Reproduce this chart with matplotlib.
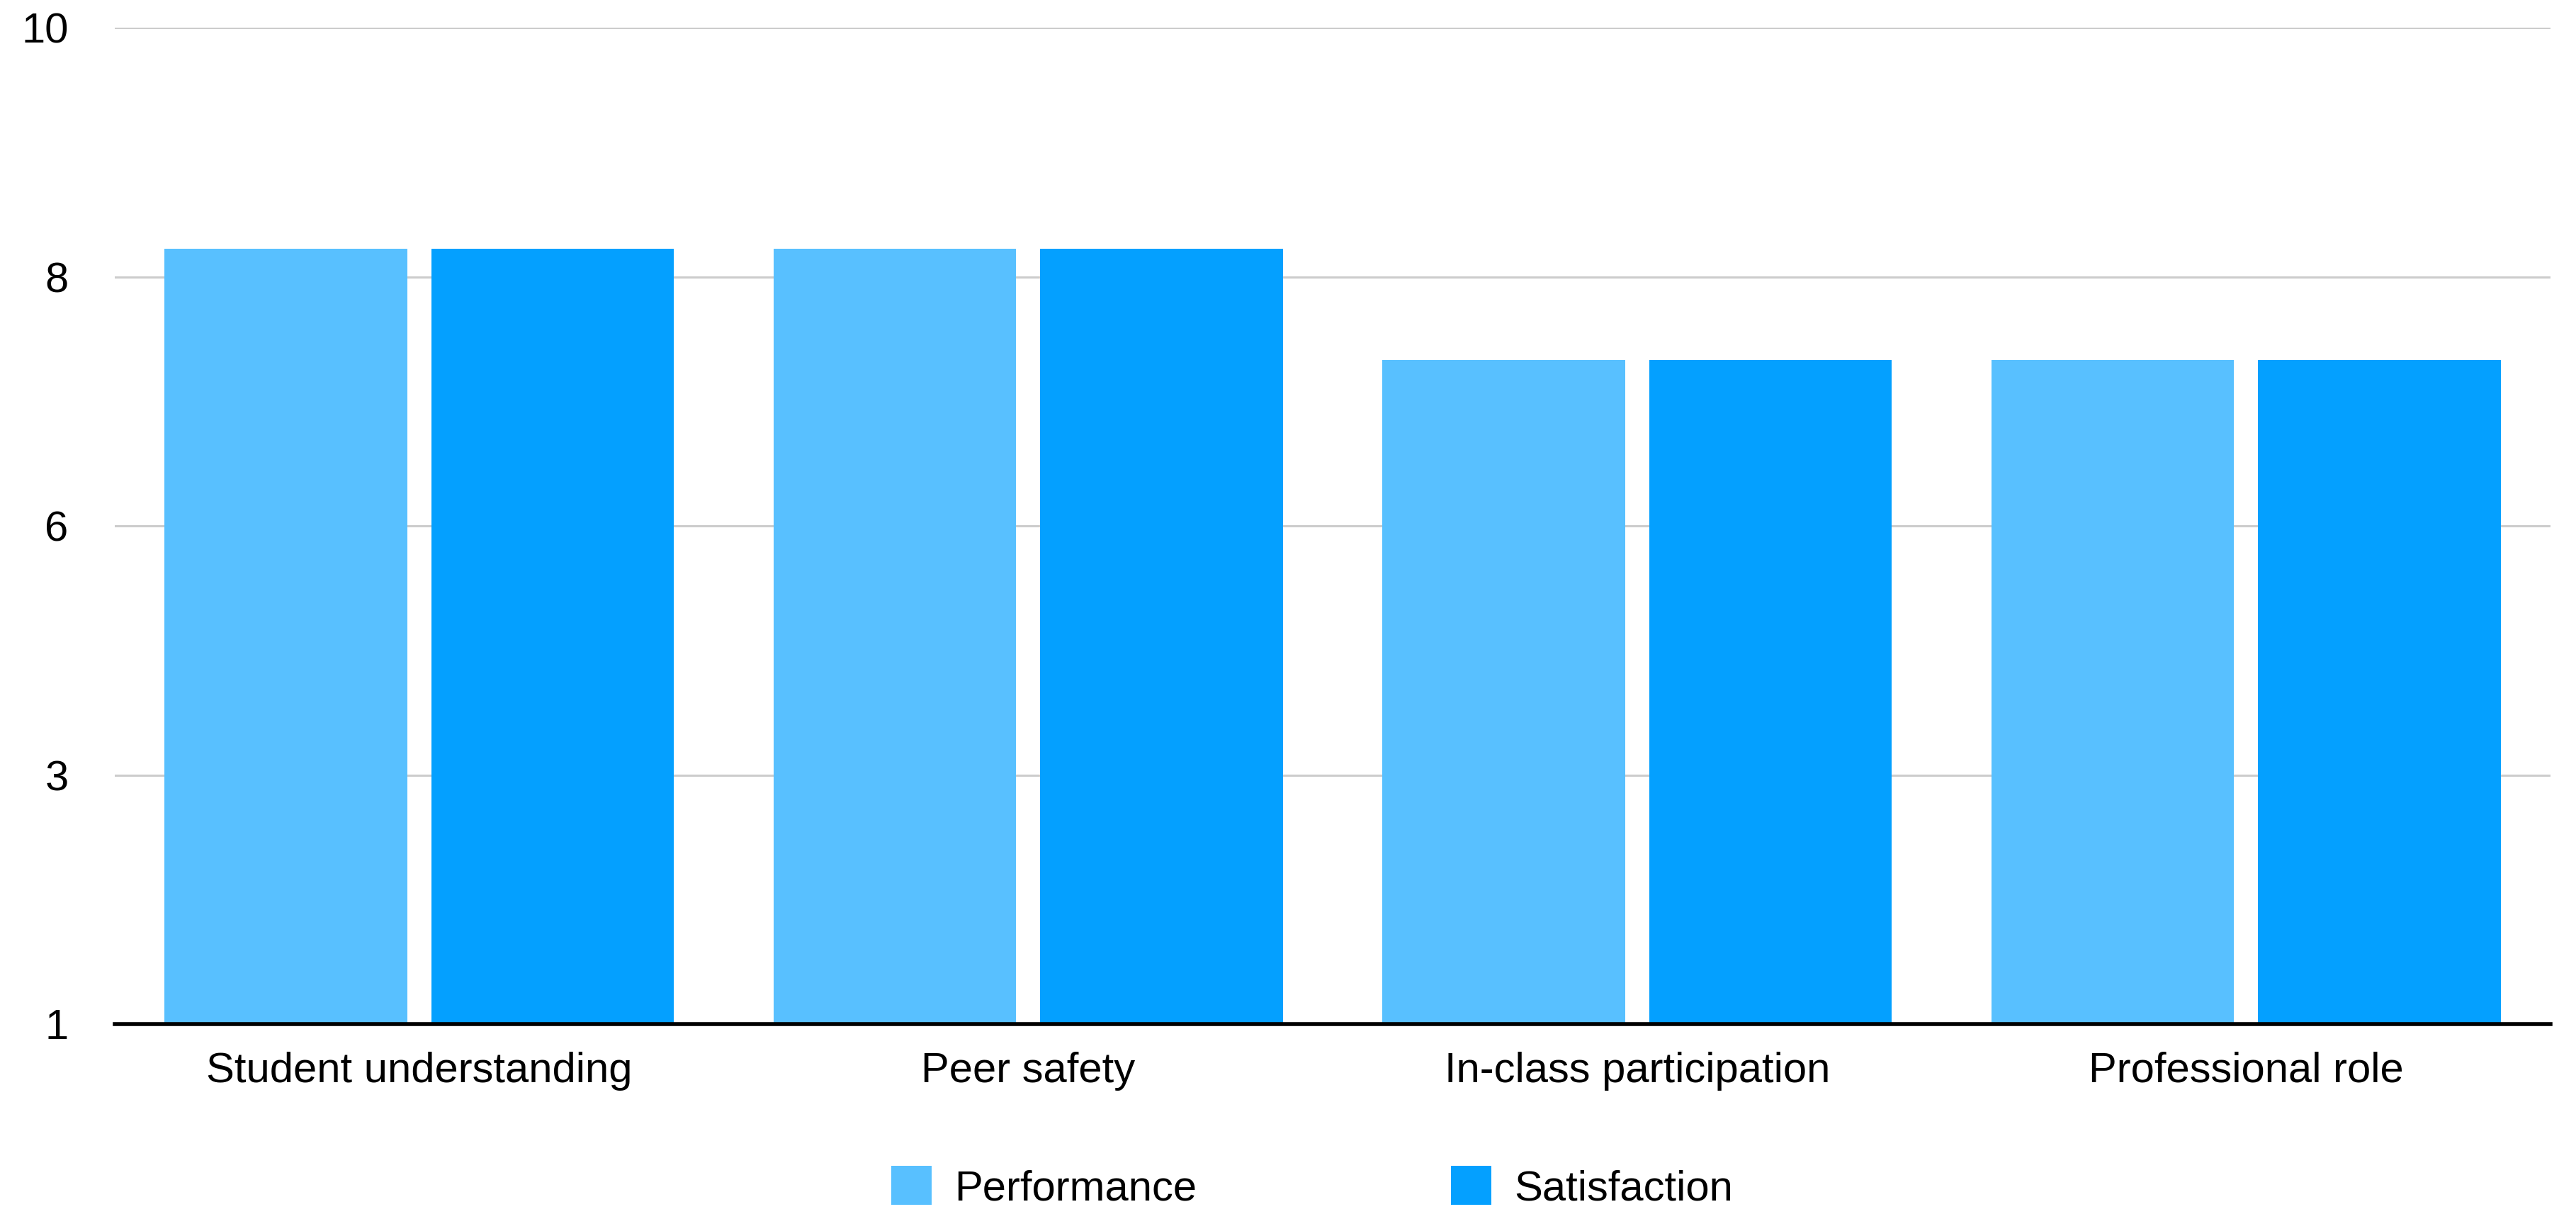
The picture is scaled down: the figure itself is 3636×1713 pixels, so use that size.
import numpy as np
import matplotlib.pyplot as plt

categories = ["Student understanding", "Peer safety", "In-class participation", "Professional role"]
performance = [8, 8, 7, 7]
satisfaction = [8, 8, 7, 7]
series_names = ["Performance", "Satisfaction"]
ytick_vals = np.linspace(1, 10, 5)
ytick_labels = ["1", "3", "6", "8", "10"]

c_perf = "#58C0FF"
c_sat = "#04A0FF"

plt.rcParams['font.family'] = ['Liberation Sans', 'DejaVu Sans']

fig = plt.figure(figsize=(36.37, 17.13), dpi=100)
ax = fig.add_axes([162 / 3637, 268 / 1713, (3600 - 162) / 3637, (1674 - 268) / 1713])

x = np.arange(len(categories))
w = 0.398
off = 0.219
ax.bar(x - off, performance, w, bottom=0, color=c_perf, label=series_names[0], zorder=2)
ax.bar(x + off, satisfaction, w, bottom=0, color=c_sat, label=series_names[1], zorder=2)

ax.set_xlim(-0.5, len(categories) - 0.5)
ax.set_ylim(1, 10)
ax.set_yticks(ytick_vals)
ax.set_yticklabels(ytick_labels)
ax.set_xticks(x)
ax.set_xticklabels(categories)
ax.tick_params(axis='y', length=0, pad=47, labelsize=43)
ax.tick_params(axis='x', length=0, pad=28, labelsize=43)

ax.grid(axis='y', color='#cccccc', lw=2.2, zorder=1)
for s in ['top', 'right', 'left']:
    ax.spines[s].set_visible(False)
ax.spines['bottom'].set_linewidth(4)
ax.spines['bottom'].set_color('black')
ax.spines['bottom'].set_zorder(3)

ax.legend(loc='center', bbox_to_anchor=(0.4916, -(268 - 38) / (1674 - 268)),
          ncol=2, frameon=False, fontsize=43, handlelength=0.95, handleheight=1.05,
          handletextpad=0.55, columnspacing=6.0)

fig.savefig("out.png", dpi=100)
